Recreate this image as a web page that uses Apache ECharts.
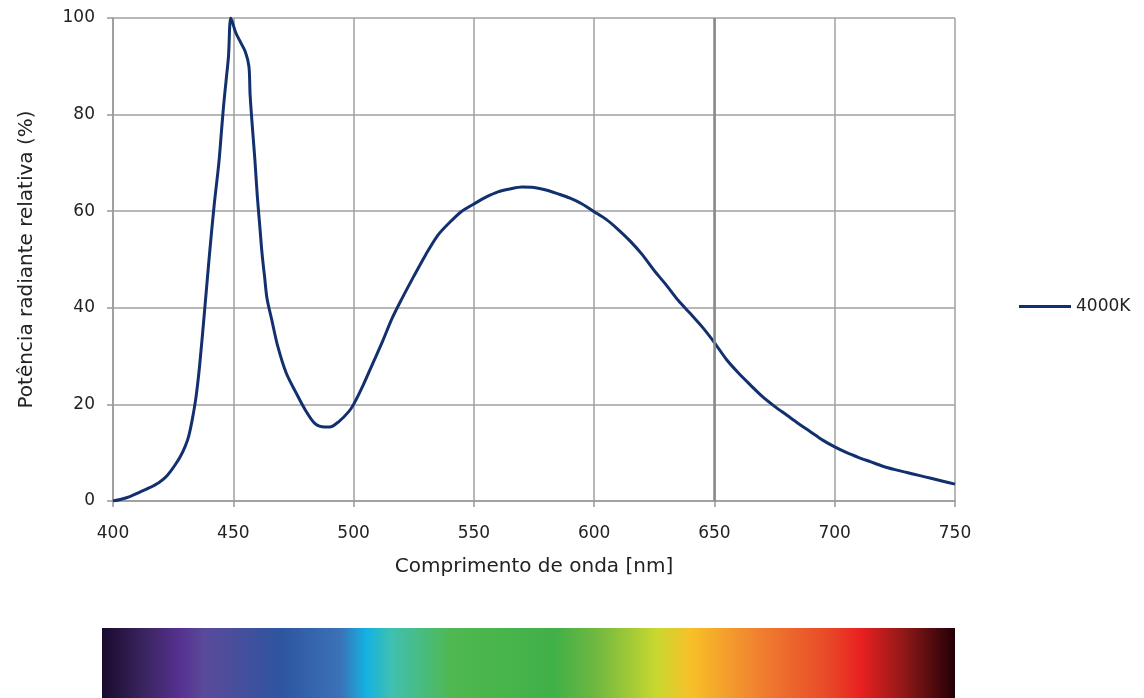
<!DOCTYPE html>
<html>
<head>
<meta charset="utf-8" />
<title>Espectro 4000K</title>
<script src="https://cdn.jsdelivr.net/npm/echarts@6/dist/echarts.min.js"></script>
<style>
	html,body{margin:0;padding:0;background:#fff;}
	#chart{width:1144px;height:698px;}
</style>
</head>
<body>
<div id="chart"></div>
<script type="text/javascript">
// comprimento de onda (nm) e potencia relativa (%)
var wavelengths = [400,403,407,411,415,419,422,424,426,428,430,431.5,433,434.5,436,438,440,442,444,445,446,447,448,449,
	451,453,455,456.5,457,458,459,460,461,462,463,464,466,468.5,472,476,480,484,488,490,494,498,500,
	504,508,512,516,520,525,530,535,540,545,550,555,560,565,570,575,580,585,590,595,600,605,610,615,620,
	625,630,635,640,645,650,655,660,665,670,675,680,685,690,695,700,705,710,715,720,725,730,735,740,745,750];
var power4000K = [0,0.3,0.9,1.8,2.7,3.8,5.0,6.2,7.6,9.2,11.3,13.5,17.0,21.5,28,39,50.5,61,70,76,82,87,92,100,
	97,95,93,90,84,77,70.5,63,57,51,46.5,42,37.5,32,26.5,22.5,18.8,16,15.3,15.3,16.5,18.5,20,
	24,28.5,33,37.8,41.8,46.5,51,55,57.7,60,61.5,62.9,64,64.6,65,64.9,64.4,63.6,62.7,61.5,59.9,58.3,56.2,53.8,51,
	47.7,44.7,41.5,38.8,36,32.8,29.3,26.5,24,21.6,19.6,17.8,16,14.3,12.6,11.2,10,9.0,8.1,7.2,6.5,5.9,5.3,4.7,4.1,3.5];
var xTicks = [400,450,500,550,600,650,700,750];
var yTicks = [0,20,40,60,80,100];

// faixa do espectro visivel
var spectrumStops = [
	[0.00,'#1a0a2e'],[0.05,'#3a2560'],[0.09,'#55308f'],[0.12,'#5a4a9a'],[0.21,'#2e55a0'],
	[0.28,'#3a72b8'],[0.31,'#14b2e2'],[0.34,'#40c0b0'],[0.41,'#50b850'],[0.53,'#40b048'],
	[0.58,'#70b840'],[0.65,'#c8d830'],[0.69,'#f8c028'],[0.77,'#f08030'],[0.85,'#e84a28'],
	[0.89,'#e82020'],[0.94,'#901818'],[1.00,'#220006']
];

var seriesData = [];
for (var i = 0; i < wavelengths.length; i++) {
	seriesData.push([wavelengths[i], power4000K[i]]);
}

var fontName = 'DejaVu Sans';
var myChart = echarts.init(document.getElementById('chart'));
var option = {
	animation: false,
	textStyle: {fontFamily: fontName},
	grid: {left: 113, right: 189, top: 18, bottom: 197},
	legend: {
		data: ['4000K'],
		left: 1014, top: 293,
		itemWidth: 52, itemHeight: 3, itemGap: 3,
		icon: 'rect',
		textStyle: {fontSize: 17, color: '#222', fontFamily: fontName}
	},
	xAxis: {
		type: 'value', min: 400, max: 750, interval: 50,
		name: 'Comprimento de onda [nm]',
		nameLocation: 'middle', nameGap: 56,
		nameTextStyle: {fontSize: 20, color: '#222'},
		axisLine: {lineStyle: {color: '#999', width: 1.5}},
		axisTick: {show: true, length: 6, lineStyle: {color: '#999', width: 1.5}},
		axisLabel: {fontSize: 17, color: '#222', margin: 24,
			formatter: function (v) { return xTicks.indexOf(v) >= 0 ? v : ''; }},
		splitLine: {show: true, lineStyle: {color: '#a0a0a0', width: 1.5}}
	},
	yAxis: {
		type: 'value', min: 0, max: 100, interval: 20,
		name: 'Potência radiante relativa (%)',
		nameLocation: 'middle', nameGap: 76, nameRotate: 90,
		nameTextStyle: {fontSize: 20, color: '#222'},
		axisLine: {show: true, lineStyle: {color: '#999', width: 1.5}},
		axisTick: {show: true, length: 6, lineStyle: {color: '#999', width: 1.5}},
		axisLabel: {fontSize: 17, color: '#222', margin: 18,
			formatter: function (v) { return yTicks.indexOf(v) >= 0 ? v : ''; }},
		splitLine: {show: true, lineStyle: {color: '#a0a0a0', width: 1.5}}
	},
	series: [{
		name: '4000K',
		type: 'line',
		data: seriesData,
		smooth: 0.3,
		showSymbol: false,
		lineStyle: {color: '#13306e', width: 3},
		itemStyle: {color: '#13306e'},
		markLine: {
			silent: true, symbol: 'none', label: {show: false},
			lineStyle: {color: '#888', width: 2.5, type: 'solid'},
			data: [{xAxis: 650}]
		}
	}],
	graphic: [{
		type: 'rect',
		left: 102, top: 628,
		shape: {width: 853, height: 70},
		style: {
			fill: new echarts.graphic.LinearGradient(0, 0, 1, 0,
				spectrumStops.map(function (s) { return {offset: s[0], color: s[1]}; }))
		}
	}]
};
myChart.setOption(option);
</script>
</body>
</html>
